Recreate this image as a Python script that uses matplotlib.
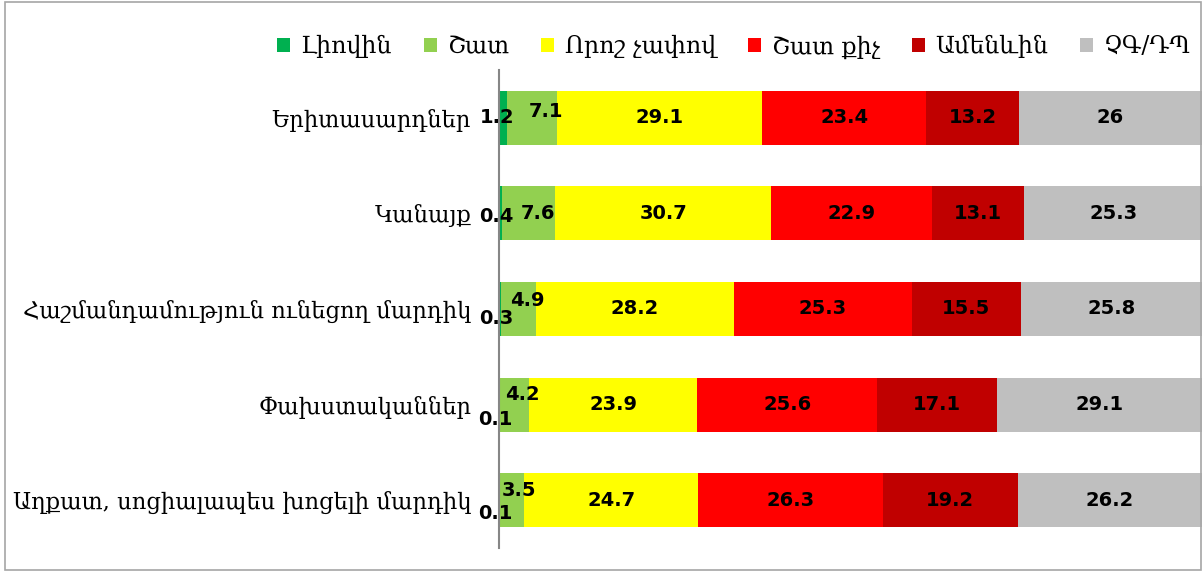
import matplotlib
matplotlib.use("Agg")
import matplotlib.pyplot as plt
from matplotlib.patches import Rectangle
import numpy as np

plt.rcParams["font.family"] = ["DejaVu Serif", "DejaVu Sans"]

groups = ["Երիտասարդներ", "Կանայք", "Հաշմանդամություն ունեցող մարդիկ",
          "Փախստականներ", "Աղքատ, սոցիալապես խոցելի մարդիկ"]
series = ["Լիովին", "Շատ", "Որոշ չափով", "Շատ քիչ", "Ամենևին", "ՉԳ/ԴՊ"]
fully = [1.2, 0.4, 0.3, 0.1, 0.1]
much = [7.1, 7.6, 4.9, 4.2, 3.5]
some = [29.1, 30.7, 28.2, 23.9, 24.7]
little = [23.4, 22.9, 25.3, 25.6, 26.3]
none_ = [13.2, 13.1, 15.5, 17.1, 19.2]
dk = [26, 25.3, 25.8, 29.1, 26.2]

colors = ["#00B050", "#92D050", "#FFFF00", "#FF0000", "#C00000", "#BFBFBF"]
# excel nudges the crowded small labels; offsets in pixels (row, series)
nudge = {(0, 0): (-6, 0), (0, 1): (14, 6),
         (1, 0): (-4, -3), (1, 1): (9, 0),
         (2, 0): (-4, -10), (2, 1): (9, 8),
         (3, 0): (-4, -15), (3, 1): (8, 10),
         (4, 0): (-4, -13), (4, 1): (7, 10)}

fig = plt.figure(figsize=(12.03, 5.72), dpi=100)
ax = fig.add_axes([499 / 1203, 1 - 548 / 572, 703 / 1203, 478 / 572])
fig.patches.append(Rectangle((5 / 1203, 2 / 572), 1196 / 1203, 568 / 572, transform=fig.transFigure,
                             fill=False, edgecolor="#A6A6A6", lw=1.2))

y = np.arange(len(groups))
left = np.zeros(len(groups))
data = [fully, much, some, little, none_, dk]
for j, (name, vals, c) in enumerate(zip(series, data, colors)):
    vals = np.array(vals, float)
    ax.barh(y, vals, left=left, height=0.565, color=c, label=name)
    for i, v in enumerate(vals):
        dx, dy = nudge.get((i, j), (0, 0))
        ax.annotate(f"{v:g}", (left[i] + v / 2, y[i]), xytext=(dx, dy), textcoords="offset pixels",
                    ha="center", va="center", fontsize=14, fontweight="bold", color="black",
                    family="DejaVu Sans")
    left += vals

ax.set_xlim(0, 100)
ax.set_ylim(len(groups) - 0.5, -0.5)
ax.set_yticks(y)
ax.set_yticklabels(groups, fontsize=16.3)
ax.tick_params(axis="y", length=0, pad=20)
ax.set_xticks([])
for s in ["top", "right", "bottom"]:
    ax.spines[s].set_visible(False)
ax.spines["left"].set_color("#868686")
ax.spines["left"].set_linewidth(1.5)

fig.legend(loc="upper right", bbox_to_anchor=(1212 / 1203, 1 - 14 / 572), ncol=6, frameon=False,
           fontsize=17, handlelength=0.55, handleheight=0.55, handletextpad=0.45, columnspacing=1.35)

fig.savefig("out.png", dpi=100)
